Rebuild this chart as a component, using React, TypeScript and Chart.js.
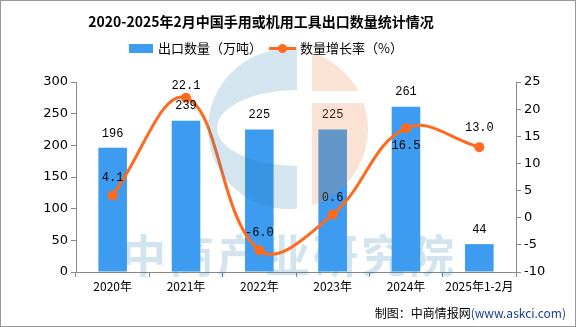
import React, { useEffect, useRef } from 'react';
import { Chart, registerables } from 'chart.js';

Chart.register(...registerables);

const title = '2020-2025年2月中国手用或机用工具出口数量统计情况';
const categories = ['2020年', '2021年', '2022年', '2023年', '2024年', '2025年1-2月'];
const exportVolume = [196, 239, 225, 225, 261, 44];
const growthRate = [4.1, 22.1, -6.0, 0.6, 16.5, 13.0];
const barLegend = '出口数量（万吨）';
const lineLegend = '数量增长率（%）';
const sourcePrefix = '制图：中商情报网';
const sourceSite = '(www.askci.com)';
const watermark = '中商产业研究院';

const BLUE = '#3d9cf0';
const ORANGE = '#ff6a1f';
const CJK = '"Noto Sans CJK SC", "Noto Sans", sans-serif';
// vertical offset of each growth-rate label from its point (style only)
const lineLabelOffset = [-18, -12, -17, -17, 18, -19];

const decorPlugin = {
  id: 'decor',
  beforeDraw(chart: any) {
    const ctx = chart.ctx;
    ctx.save();
    ctx.fillStyle = '#ffffff';
    ctx.fillRect(0, 0, chart.width, chart.height);
    ctx.restore();
  },
  beforeDatasetsDraw(chart: any) {
    const ctx = chart.ctx;
    ctx.save();
    ctx.fillStyle = 'rgba(30,120,170,0.2)';
    ctx.font = `bold 45px ${CJK}`;
    (ctx as any).letterSpacing = '3px';
    ctx.textAlign = 'center';
    ctx.textBaseline = 'middle';
    ctx.fillText(watermark, 289, 256);
    ctx.restore();
  },
  afterDatasetsDraw(chart: any) {
    const ctx = chart.ctx;
    // data labels
    ctx.save();
    ctx.fillStyle = '#000';
    ctx.textAlign = 'center';
    ctx.textBaseline = 'middle';
    ctx.font = '12px "Liberation Mono", "DejaVu Sans Mono", monospace';
    const barMeta = chart.getDatasetMeta(0);
    barMeta.data.forEach((el: any, i: number) => {
      ctx.fillText(String(exportVolume[i]), el.x, el.y - 14.5);
    });
    const lineMeta = chart.getDatasetMeta(1);
    lineMeta.data.forEach((el: any, i: number) => {
      ctx.fillText(growthRate[i].toFixed(1), el.x, el.y + lineLabelOffset[i]);
    });
    ctx.restore();

    // watermark logo
    const cx = 288, cy = 129, R = 80;
    ctx.save();
    ctx.beginPath();
    ctx.rect(190, 0, 107, 300);
    ctx.clip();
    ctx.beginPath();
    ctx.arc(cx, cy, R, 0, Math.PI * 2);
    ctx.ellipse(297, 128, 80, 38, 0, 0, Math.PI * 2);
    ctx.fillStyle = 'rgba(40,125,175,0.2)';
    ctx.fill('evenodd');
    ctx.restore();

    ctx.save();
    ctx.beginPath();
    ctx.rect(312, 0, 100, 91);
    ctx.rect(312, 103, 100, 200);
    ctx.clip();
    ctx.beginPath();
    ctx.arc(cx, cy, R, 0, Math.PI * 2);
    ctx.fillStyle = 'rgba(233,132,75,0.23)';
    ctx.fill();
    ctx.restore();
  },
  afterDraw(chart: any) {
    const ctx = chart.ctx;
    const W = chart.width, H = chart.height;
    ctx.save();
    // title
    ctx.fillStyle = '#000';
    ctx.font = `bold 14px ${CJK}`;
    ctx.textAlign = 'center';
    ctx.textBaseline = 'middle';
    ctx.fillText(title, 261, 22);

    // legend
    ctx.font = `13px ${CJK}`;
    ctx.textAlign = 'left';
    ctx.fillStyle = BLUE;
    ctx.fillRect(129, 44, 24, 9);
    ctx.fillStyle = '#000';
    ctx.fillText(barLegend, 158, 48.5);
    ctx.strokeStyle = ORANGE;
    ctx.lineWidth = 3;
    ctx.beginPath();
    ctx.moveTo(269, 48.5);
    ctx.lineTo(296, 48.5);
    ctx.stroke();
    ctx.fillStyle = ORANGE;
    ctx.beginPath();
    ctx.arc(282.5, 48.5, 4.5, 0, Math.PI * 2);
    ctx.fill();
    ctx.fillStyle = '#000';
    ctx.fillText(lineLegend, 300, 48.5);

    // source
    ctx.font = `12px ${CJK}`;
    ctx.textAlign = 'right';
    ctx.fillStyle = '#1a3d8f';
    const siteW = ctx.measureText(sourceSite).width;
    ctx.fillText(sourceSite, 566, 313);
    ctx.fillStyle = '#000';
    ctx.fillText(sourcePrefix, 566 - siteW, 313);

    // frame
    ctx.strokeStyle = '#999';
    ctx.lineWidth = 1;
    ctx.strokeRect(0.5, 0.5, W - 1, H - 1);
    ctx.restore();
  },
};

export default function App() {
  const ref = useRef<HTMLCanvasElement | null>(null);
  useEffect(() => {
    document.body.style.margin = '0';
    if (!ref.current) return;
    const tickFont = { family: 'Tahoma, "DejaVu Sans", "Noto Sans", sans-serif', size: 13 };
    const chart = new Chart(ref.current, {
      type: 'bar',
      data: {
        labels: categories,
        datasets: [
          {
            type: 'bar',
            label: barLegend,
            data: exportVolume,
            backgroundColor: BLUE,
            yAxisID: 'y',
            barPercentage: 0.39,
            categoryPercentage: 1,
            order: 2,
          },
          {
            type: 'line',
            label: lineLegend,
            data: growthRate,
            borderColor: ORANGE,
            backgroundColor: ORANGE,
            borderWidth: 3,
            pointRadius: 5,
            pointBackgroundColor: ORANGE,
            pointBorderWidth: 0,
            tension: 0.4,
            yAxisID: 'y1',
            order: 1,
          },
        ],
      } as any,
      options: {
        responsive: false,
        animation: false,
        layout: { padding: { top: 82, bottom: 27, left: 0, right: 0 } },
        plugins: {
          legend: { display: false },
          title: { display: false },
          tooltip: { enabled: false },
        },
        scales: {
          x: {
            grid: { drawOnChartArea: false, offset: true, tickLength: 5, color: '#888' },
            border: { color: '#888' },
            ticks: { color: '#000', font: { family: CJK, size: 12 }, padding: 2, maxRotation: 0, autoSkip: false },
            afterFit: (s: any) => { s.height = 28; },
          },
          y: {
            position: 'left',
            min: 0,
            max: 300,
            ticks: { stepSize: 50, color: '#000', font: tickFont, padding: 3 },
            grid: { drawOnChartArea: false, tickLength: 5, color: '#888' },
            border: { color: '#888' },
            afterFit: (s: any) => { s.width = 76; },
          },
          y1: {
            position: 'right',
            min: -10,
            max: 25,
            ticks: { stepSize: 5, color: '#000', font: tickFont, padding: 3 },
            grid: { drawOnChartArea: false, tickLength: 5, color: '#888' },
            border: { color: '#888' },
            afterFit: (s: any) => { s.width = 60; },
          },
        },
      } as any,
      plugins: [decorPlugin],
    });
    return () => chart.destroy();
  }, []);
  return (
    <div style={{ position: 'absolute', left: 0, top: 0, width: 576, height: 327 }}>
      <canvas ref={ref} width={576} height={327} style={{ width: 576, height: 327, display: 'block' }} />
    </div>
  );
}
